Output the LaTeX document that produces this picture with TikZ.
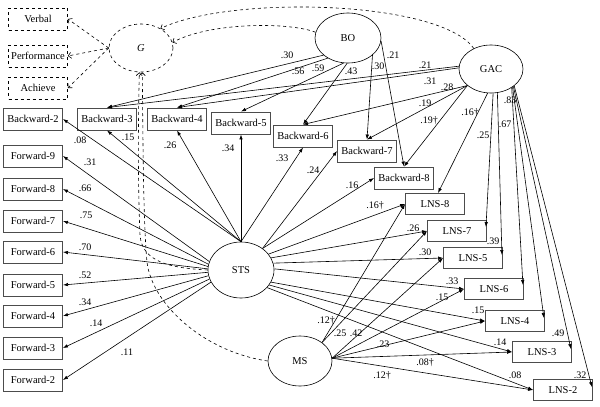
\documentclass[tikz,border=0pt]{standalone}
\usepackage{fontspec}
\setmainfont{Liberation Serif}
\usetikzlibrary{arrows.meta, shapes.geometric}

\begin{document}
\begin{tikzpicture}[x=1pt, y=-1pt,
    latent/.style={ellipse, draw, line width=0.6pt, minimum width=64pt, minimum height=48pt, inner sep=0pt, font=\fontsize{10.5}{12}\selectfont},
    ind/.style={rectangle, draw=black!70, line width=0.9pt, minimum width=59pt, minimum height=22pt, inner sep=1pt, font=\fontsize{10.5}{12}\selectfont},
    outcome/.style={ind, draw=black, line width=0.6pt, dashed},
    wt/.style={inner sep=0pt, font=\fontsize{10}{11}\selectfont},
    path/.style={-{Latex[length=5pt, width=3.5pt]}, line width=0.6pt},
    cov/.style={-{Straight Barb[length=3pt, width=6pt]}, dashed, line width=0.6pt}]
        \useasboundingbox (0,0) rectangle (600,407);

        % latent variables
        \node (g) at (141,48)[latent, dashed] {\textit{G}};
        \node (bo) at (348,38)[latent, minimum width=66pt, minimum height=50pt] {BO};
        \node (gac) at (491,69)[latent] {GAC};
        \node (sts) at (241,270)[latent, minimum width=66pt, minimum height=56pt] {STS};
        \node (ms) at (300,361)[latent, minimum height=50pt] {MS};

        % G indicators
        \node (verbal) at (38,19)[outcome] {Verbal};
        \node (perf) at (38,56)[outcome] {Performance};
        \node (achieve) at (38,88)[outcome] {Achieve};

        % backward span
        \node (bw2) at (33,119)[ind] {Backward-2};
        \node (bw3) at (107,119)[ind] {Backward-3};
        \node (bw4) at (177,119)[ind] {Backward-4};
        \node (bw5) at (241,123)[ind] {Backward-5};
        \node (bw6) at (303,136)[ind] {Backward-6};
        \node (bw7) at (367,151)[ind] {Backward-7};
        \node (bw8) at (404,178)[ind] {Backward-8};

        % forward span
        \node (fw9) at (33,156)[ind] {Forward-9};
        \node (fw8) at (33,189)[ind] {Forward-8};
        \node (fw7) at (33,221)[ind] {Forward-7};
        \node (fw6) at (33,252)[ind] {Forward-6};
        \node (fw5) at (33,285)[ind] {Forward-5};
        \node (fw4) at (33,316)[ind] {Forward-4};
        \node (fw3) at (33,348)[ind] {Forward-3};
        \node (fw2) at (33,380)[ind] {Forward-2};

        % letter-number sequencing
        \node (lns8) at (435,204)[ind, minimum height=21pt] {LNS-8};
        \node (lns7) at (457,231)[ind, minimum height=21pt] {LNS-7};
        \node (lns5) at (473,258)[ind, minimum height=21pt] {LNS-5};
        \node (lns6) at (494,289)[ind, minimum height=21pt] {LNS-6};
        \node (lns4) at (515,321)[ind, minimum height=21pt] {LNS-4};
        \node (lns3) at (542,352)[ind, minimum height=21pt] {LNS-3};
        \node (lns2) at (563,390)[ind, minimum height=21pt] {LNS-2};

        % G and its correlations
        \draw[cov] (g.west) -- (verbal.east);
        \draw[cov] (g.west) -- (perf.east);
        \draw[cov] (g.west) -- (achieve.east);
        \draw[cov] (bo.170) .. controls (290,22) and (210,22) .. (g.10);
        \draw[cov] (gac.130) .. controls (440,0) and (230,-5) .. (g.45);
        \draw[cov] (ms.west) .. controls (205,352) and (152,305) .. (147,262) .. controls (143,220) and (143,130) .. (g.-87);
        \draw[cov] (sts.west) .. controls (170,268) and (142,262) .. (140,235) .. controls (138,190) and (138,130) .. (g.-94);

        % BO
        \draw[path] (bo.215) -- (bw3.north);
        \draw[path] (bo.225) -- (bw4.north);
        \draw[path] (bo.260) -- (bw5.north);
        \draw[path] (bo.268) -- (bw6.north);
        \draw[path] (bo.325) -- (bw7.north);
        \draw[path] (bo.355) -- (bw8.north);

        % GAC
        \draw[path] (gac.175) -- (bw3.north);
        \draw[path] (gac.178) -- (bw4.north);
        \draw[path] (gac.215) -- (bw6.north);
        \draw[path] (gac.215) -- (bw7.north);
        \draw[path] (gac.215) -- (bw8.north);
        \draw[path] (gac.262) -- ([xshift=3pt]lns8.north);
        \draw[path] (gac.275) -- ([shift={(-1pt,-7pt)}]lns7.north east);
        \draw[path] (gac.285) -- ([shift={(-1pt,-8pt)}]lns5.north east);
        \draw[path] (gac.318) -- ([shift={(-1pt,-7pt)}]lns6.north east);
        \draw[path] (gac.320) -- ([shift={(-1pt,-8pt)}]lns4.north east);
        \draw[path] (gac.322) -- ([shift={(-1pt,-8pt)}]lns3.north east);
        \draw[path] (gac.324) -- ([shift={(-1pt,-8pt)}]lns2.north east);

        % STS
        \draw[path] (sts.north) -- (bw2.east);
        \draw[path] (sts.north) -- (bw3.south);
        \draw[path] (sts.north) -- (bw4.south);
        \draw[path] (sts.north) -- (bw5.south);
        \draw[path] (sts.north) -- (bw6.south);
        \draw[path] (sts.45) -- (bw7.west);
        \draw[path] (sts.45) -- (bw8.west);
        \draw[path] (sts.165) -- (fw9.east);
        \draw[path] (sts.170) -- (fw8.east);
        \draw[path] (sts.174) -- (fw7.east);
        \draw[path] (sts.178) -- (fw6.east);
        \draw[path] (sts.184) -- (fw5.east);
        \draw[path] (sts.190) -- (fw4.east);
        \draw[path] (sts.196) -- (fw3.east);
        \draw[path] (sts.202) -- (fw2.east);
        \draw[path] (sts.30) -- (lns8.west);
        \draw[path] (sts.22) -- (lns7.west);
        \draw[path] (sts.12) -- (lns5.west);
        \draw[path] (sts.2) -- (lns6.west);
        \draw[path] (sts.-22) -- (lns4.west);
        \draw[path] (sts.-28) -- (lns3.west);
        \draw[path] (sts.-34) -- (lns2.west);

        % MS
        \draw[path] (ms.40) -- (lns8.west);
        \draw[path] (ms.40) -- (lns7.west);
        \draw[path] (ms.5) -- (lns5.west);
        \draw[path] (ms.5) -- (lns6.west);
        \draw[path] (ms.5) -- (lns4.west);
        \draw[path] (ms.5) -- (lns3.west);
        \draw[path] (ms.5) -- (lns2.west);

        % loadings
        \node (w-bo-bw3) at (287,55)[wt] {.30};
        \node (w-bo-bw4) at (298,71)[wt] {.56};
        \node (w-bo-bw5) at (318,68)[wt] {.59};
        \node (w-bo-bw6) at (351,71)[wt] {.43};
        \node (w-bo-bw7) at (378,66)[wt] {.30};
        \node (w-bo-bw8) at (393,55)[wt] {.21};
        \node (w-gac-bw3) at (425,65)[wt] {.21};
        \node (w-gac-bw4) at (430,81)[wt] {.31};
        \node (w-gac-bw6) at (447,87)[wt] {.28};
        \node (w-gac-bw7) at (425,103)[wt] {.19};
        \node (w-gac-bw8) at (429,121)[wt] {.19\textdagger};
        \node (w-gac-lns8) at (470,113)[wt] {.16\textdagger};
        \node (w-gac-lns7) at (483,135)[wt] {.25};
        \node (w-gac-lns5) at (493,241)[wt] {.39};
        \node (w-gac-lns6) at (505,124)[wt] {.67};
        \node (w-gac-lns4) at (510,100)[wt] {.83};
        \node (w-gac-lns3) at (558,333)[wt] {.49};
        \node (w-gac-lns2) at (580,375)[wt] {.32};
        \node (w-sts-bw2) at (80,140)[wt] {.08};
        \node (w-sts-bw3) at (128,137)[wt] {.15};
        \node (w-sts-bw4) at (170,145)[wt] {.26};
        \node (w-sts-bw5) at (228,148)[wt] {.34};
        \node (w-sts-bw6) at (282,158)[wt] {.33};
        \node (w-sts-bw7) at (313,170)[wt] {.24};
        \node (w-sts-bw8) at (352,185)[wt] {.16};
        \node (w-sts-fw9) at (90,162)[wt] {.31};
        \node (w-sts-fw8) at (85,188)[wt] {.66};
        \node (w-sts-fw7) at (86,215)[wt] {.75};
        \node (w-sts-fw6) at (85,247)[wt] {.70};
        \node (w-sts-fw5) at (85,275)[wt] {.52};
        \node (w-sts-fw4) at (85,302)[wt] {.34};
        \node (w-sts-fw3) at (96,323)[wt] {.14};
        \node (w-sts-fw2) at (127,352)[wt] {.11};
        \node (w-sts-lns8) at (375,206)[wt] {.16\textdagger};
        \node (w-sts-lns7) at (413,228)[wt] {.26};
        \node (w-sts-lns5) at (425,252)[wt] {.30};
        \node (w-sts-lns6) at (452,281)[wt] {.33};
        \node (w-sts-lns4) at (478,310)[wt] {.15};
        \node (w-sts-lns3) at (500,342)[wt] {.14};
        \node (w-sts-lns2) at (515,375)[wt] {.08};
        \node (w-ms-lns8) at (326,321)[wt] {.12\textdagger};
        \node (w-ms-lns7) at (340,333)[wt] {.25};
        \node (w-ms-lns5) at (356,333)[wt] {.42};
        \node (w-ms-lns6) at (442,297)[wt] {.15};
        \node (w-ms-lns4) at (383,344)[wt] {.23};
        \node (w-ms-lns3) at (425,363)[wt] {.08\textdagger};
        \node (w-ms-lns2) at (382,376)[wt] {.12\textdagger};
    \end{tikzpicture}
\end{document}
